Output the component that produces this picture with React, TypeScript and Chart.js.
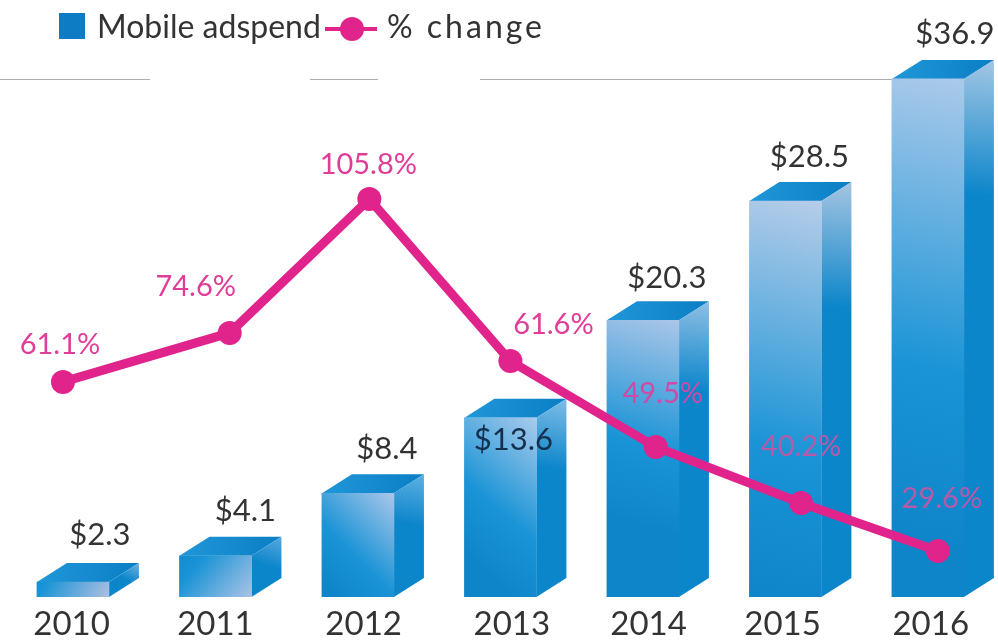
import React, { useEffect, useRef } from "react";
import { Chart, registerables } from "chart.js";

Chart.register(...registerables);

// ---- data ----
const categories = ["2010", "2011", "2012", "2013", "2014", "2015", "2016"];
const years = [2010, 2011, 2012, 2013, 2014, 2015, 2016];
const adspend = [2.3, 4.1, 8.4, 13.6, 20.3, 28.5, 36.9];
const adspendLabels = ["$2.3", "$4.1", "$8.4", "$13.6", "$20.3", "$28.5", "$36.9"];
// the drawn line does not sit exactly at its printed values or on the bars' years
const changeDrawn = [66.2, 76.8, 105.8, 70.7, 52.1, 40.0, 29.6];
const changeDrawnYear = [2009.93, 2011.1, 2012.08, 2013.07, 2014.09, 2015.11, 2016.07];
const changeLabels = ["61.1%", "74.6%", "105.8%", "61.6%", "49.5%", "40.2%", "29.6%"];
const tickYear = [2009.99, 2011.0, 2012.04, 2013.08, 2014.04, 2014.98, 2016.02];

// ---- styling ----
const FONT = "Lato, 'Open Sans', sans-serif";
const PINK = "#e0248c";
const DEPTH_X = 30;
const DEPTH_Y = 19;
const BAR_W = 72;
const Y_FLOOR = 1.27;
const BLUE_MID = "#1a94d6";
const BLUE_END = "#0e85c9";
const BLUE_SIDE = "#0c86cb";

const adspendOffsets = [[27, -47], [30, -45], [29, -44], [13, 22], [24, -42], [24, -44], [27, -45]];
const adspendColors = ["#333", "#333", "#333", "#14304f", "#333", "#333", "#333"];
const changeOffsets = [[-3, -37], [-34, -46], [-1, -34], [43, -36], [7, -53], [0, -56], [4, -52]];
const changeColors = ["#df3d98", "#df3d98", "#df3d98", "#df3d98", "#cf4aa6", "#b85aa8", "#b85aa8"];

const frontStart = ["br", "br", "tr", "tr", "tr", "tr", "tr"];
const frontDir = [[-0.85, -0.5], [-0.75, -0.65], [-0.7, 0.7], [-0.65, 0.75], [-0.3, 0.95], [-0.25, 0.97], [-0.2, 0.98]];
const frontReach = [62, 62, 72, 95, 130, 250, 290];
const frontLight = ["#aebfe0", "#abc3e6", "#abc6ea", "#a9cbec", "#abc6e8", "#b6cde9", "#abcaea"];
const sideReach = [18, 30, 50, 70, 90, 125, 135];
const sideLight = ["#6fb2e0", "#58a8de", "#5fb0e2", "#7fbde6", "#8fbfe4", "#a6c5e2", "#a3c6e4"];
const ruleSegments = [[0, 150], [310, 378], [480, 900]];

const dimensionsPlugin = {
  id: "faces",
  beforeDatasetsDraw(chart: any) {
    const ctx = chart.ctx;
    ctx.save();
    // thin rule behind the tallest bar
    ctx.strokeStyle = "rgba(120,120,120,0.6)";
    ctx.lineWidth = 1;
    ruleSegments.forEach(([a, b]) => {
      ctx.beginPath();
      ctx.moveTo(a, 79.5);
      ctx.lineTo(b, 79.5);
      ctx.stroke();
    });
    chart.getDatasetMeta(1).data.forEach((bar: any, i: number) => {
      const { x, y, base } = bar.getProps(["x", "y", "base"], true);
      const l = x - BAR_W / 2;
      const r = x + BAR_W / 2;
      // top face
      const top = ctx.createLinearGradient(l, y, r + DEPTH_X, y);
      top.addColorStop(0, "#2097d9");
      top.addColorStop(1, "#0b7ec4");
      ctx.fillStyle = top;
      ctx.beginPath();
      ctx.moveTo(l, y);
      ctx.lineTo(l + DEPTH_X, y - DEPTH_Y);
      ctx.lineTo(r + DEPTH_X, y - DEPTH_Y);
      ctx.lineTo(r, y);
      ctx.closePath();
      ctx.fill();
      // side face
      const side = ctx.createLinearGradient(r + DEPTH_X, y - DEPTH_Y, r + DEPTH_X - 10, y - DEPTH_Y + sideReach[i]);
      side.addColorStop(0, sideLight[i]);
      side.addColorStop(1, BLUE_SIDE);
      ctx.fillStyle = side;
      ctx.beginPath();
      ctx.moveTo(r, y);
      ctx.lineTo(r + DEPTH_X, y - DEPTH_Y);
      ctx.lineTo(r + DEPTH_X, base - DEPTH_Y);
      ctx.lineTo(r, base);
      ctx.closePath();
      ctx.fill();
    });
    ctx.restore();
  },
  afterDatasetsDraw(chart: any) {
    const ctx = chart.ctx;
    ctx.save();
    ctx.textAlign = "center";
    ctx.textBaseline = "middle";
    chart.getDatasetMeta(1).data.forEach((bar: any, i: number) => {
      const p = bar.getProps(["x", "y"], true);
      ctx.font = `31px ${FONT}`;
      ctx.fillStyle = adspendColors[i];
      ctx.fillText(adspendLabels[i], p.x + adspendOffsets[i][0], p.y + adspendOffsets[i][1]);
    });
    chart.getDatasetMeta(0).data.forEach((pt: any, i: number) => {
      const p = pt.getProps(["x", "y"], true);
      ctx.font = `29px ${FONT}`;
      ctx.fillStyle = changeColors[i];
      ctx.fillText(changeLabels[i], p.x + changeOffsets[i][0], p.y + changeOffsets[i][1]);
    });
    // legend
    ctx.textAlign = "left";
    ctx.font = `32px ${FONT}`;
    ctx.fillStyle = "#0e7cc4";
    ctx.fillRect(59, 13, 26, 26);
    ctx.fillStyle = "#333";
    ctx.fillText("Mobile adspend", 97, 28);
    ctx.strokeStyle = PINK;
    ctx.lineWidth = 4;
    ctx.beginPath();
    ctx.moveTo(325, 29);
    ctx.lineTo(377, 29);
    ctx.stroke();
    ctx.fillStyle = PINK;
    ctx.beginPath();
    ctx.arc(352, 29, 12, 0, Math.PI * 2);
    ctx.fill();
    ctx.fillStyle = "#333";
    (ctx as any).letterSpacing = "3px";
    ctx.fillText("% change", 387, 28);
    ctx.restore();
  },
};

export default function App() {
  const ref = useRef<HTMLCanvasElement>(null);
  useEffect(() => {
    if (!ref.current) return;
    const chart = new Chart(ref.current, {
      type: "bar",
      plugins: [dimensionsPlugin as any],
      data: {
        datasets: [
          {
            type: "line",
            label: "% change",
            data: changeDrawn.map((v, i) => ({ x: changeDrawnYear[i], y: v })),
            yAxisID: "yc",
            borderColor: PINK,
            backgroundColor: PINK,
            borderWidth: 9,
            pointRadius: 12,
            pointBackgroundColor: PINK,
            pointBorderWidth: 0,
            tension: 0,
            order: 0,
          },
          {
            type: "bar",
            label: "Mobile adspend",
            data: adspend.map((v, i) => ({ x: years[i], y: v })),
            yAxisID: "y",
            barThickness: BAR_W,
            base: Y_FLOOR,
            borderWidth: 0,
            order: 1,
            backgroundColor: (c: any) => {
              const i = c.dataIndex;
              const sc = c.chart.scales;
              if (i === undefined || !sc || !sc.x || !sc.y) return BLUE_MID;
              const g = c.chart.ctx;
              const right = sc.x.getPixelForValue(years[i]) + BAR_W / 2;
              const top = sc.y.getPixelForValue(adspend[i]);
              const bottom = sc.y.getPixelForValue(sc.y.min);
              if (![right, top, bottom].every(Number.isFinite)) return BLUE_MID;
              const sy = frontStart[i] === "br" ? bottom : top;
              const [dx, dy] = frontDir[i];
              const grad = g.createLinearGradient(right, sy, right + dx * frontReach[i] * 1.6, sy + dy * frontReach[i] * 1.6);
              grad.addColorStop(0, frontLight[i]);
              grad.addColorStop(0.625, BLUE_MID);
              grad.addColorStop(1, BLUE_END);
              return grad;
            },
          },
        ] as any,
      },
      options: {
        responsive: false,
        animation: false,
        layout: { autoPadding: false, padding: { top: 10, left: 0, right: 0, bottom: 0 } },
        plugins: { legend: { display: false }, tooltip: { enabled: false } },
        scales: {
          x: {
            type: "linear",
            offset: false,
            min: 2009.488,
            max: 2016.492,
            grid: { display: false, offset: false, drawTicks: false },
            border: { display: false },
            afterBuildTicks: (axis: any) => {
              axis.ticks = tickYear.map((v) => ({ value: v }));
            },
            afterFit: (axis: any) => {
              axis.height = 43;
              axis.paddingLeft = 0;
              axis.paddingRight = 0;
            },
            ticks: {
              autoSkip: false,
              maxRotation: 0,
              minRotation: 0,
              padding: 8,
              color: "#333",
              font: { family: FONT, size: 33 },
              callback: (_v: any, i: number) => categories[i],
            },
          },
          y: { type: "linear", display: false, min: Y_FLOOR, max: 41.64 },
          yc: { type: "linear", display: false, min: 19.64, max: 146.7 },
        },
      } as any,
    });
    return () => chart.destroy();
  }, []);
  return (
    <div style={{ position: "absolute", left: 0, top: 0, width: 998, height: 640, background: "#fff" }}>
      <canvas ref={ref} width={998} height={640} style={{ display: "block" }} />
    </div>
  );
}
